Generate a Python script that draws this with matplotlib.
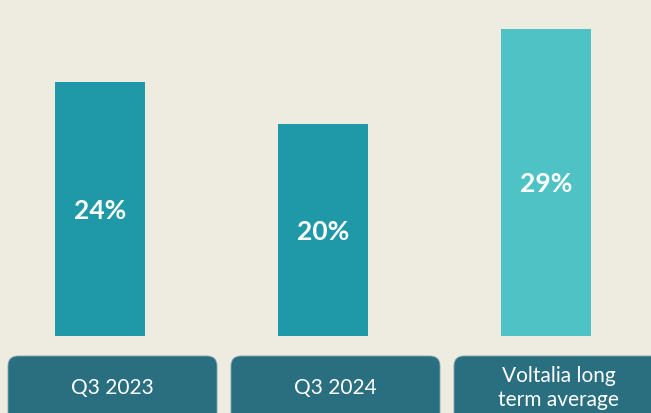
import matplotlib
matplotlib.use("Agg")
import matplotlib.pyplot as plt
from matplotlib.patches import FancyBboxPatch
import numpy as np

# ── data ──────────────────────────────────────────────────────────────────────
categories = ["Q3 2023", "Q3 2024", "Voltalia long\nterm average"]
values     = [24, 20, 29]
labels     = ["24%", "20%", "29%"]

COLORS = {
    "bg":    "#EEEBE0",
    "bar":   "#1F98A8",
    "avg":   "#4EC2C5",
    "box":   "#2A6F80",
    "edge":  "#7FA3AC",
}
bar_colors = [COLORS["bar"], COLORS["bar"], COLORS["avg"]]

# ── figure ────────────────────────────────────────────────────────────────────
W, H, DPI = 651, 413, 100
fig = plt.figure(figsize=(W / DPI, H / DPI), dpi=DPI, facecolor=COLORS["bg"])
ax = fig.add_axes([0, 0, 1, 1])
ax.set_facecolor(COLORS["bg"])

px_x = 223.0          # pixels per category
px_y = 10.59          # pixels per percentage point
x0_px, y0_px = 100.0, 77.0   # pixel position of category 0 / value 0
ax.set_xlim(-x0_px / px_x, (W - x0_px) / px_x)
ax.set_ylim(-y0_px / px_y, (H - y0_px) / px_y)
ax.axis("off")

x = np.arange(len(categories))
bw = 90 / px_x
ax.bar(x, values, width=bw, color=bar_colors, zorder=2)

for xi, v, lab in zip(x, values, labels):
    ax.text(xi, v / 2 - 0.15, lab, ha="center", va="center", color="white",
            fontsize=19, fontweight="bold", family=["Lato", "DejaVu Sans"])

# category boxes
box_w = 209 / px_x
box_off = 12.5 / px_x
box_top = -20 / px_y
box_bot = -120 / px_y
r = 10 / px_x
for xi, cat in zip(x, categories):
    cx = xi + box_off
    patch = FancyBboxPatch((cx - box_w / 2, box_bot), box_w, box_top - box_bot,
                           boxstyle=f"round,pad=0,rounding_size={r}",
                           mutation_aspect=px_x / px_y,
                           facecolor=COLORS["box"], edgecolor=COLORS["edge"],
                           lw=0.6, zorder=2, clip_on=False)
    ax.add_patch(patch)
    ax.text(cx, -52 / px_y, cat, ha="center", va="center", color="white",
            fontsize=15, linespacing=1.3, family=["Lato", "DejaVu Sans"],
            zorder=3)

fig.savefig("out.png", dpi=DPI, facecolor=COLORS["bg"])
plt.close(fig)
